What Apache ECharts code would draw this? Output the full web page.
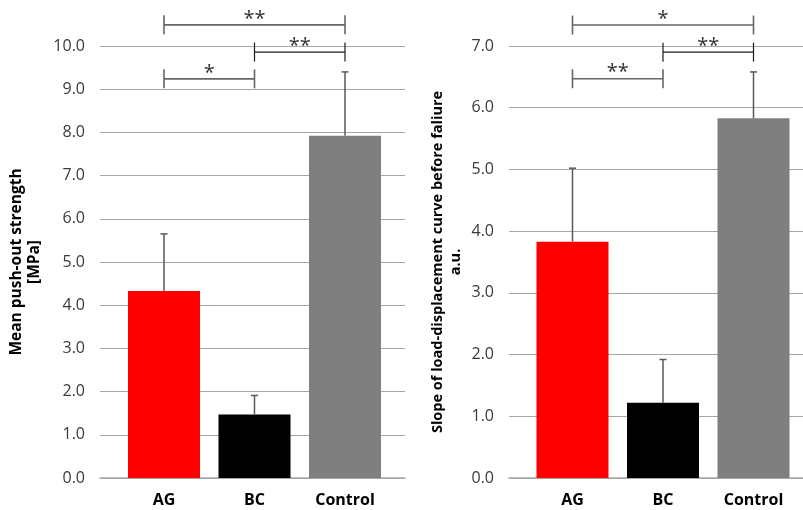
<!DOCTYPE html>
<html><head><meta charset="utf-8">
<script src="https://cdn.jsdelivr.net/npm/echarts@6/dist/echarts.min.js"></script>
<style>html,body{margin:0;padding:0;background:#fff}#c{width:803px;height:510px}</style>
</head><body><div id="c"></div>
<script>
// ---- data ----
const categories = ['AG', 'BC', 'Control'];
const barColors = ['#FF0000', '#000000', '#7F7F7F'];

const pushOutMean = [4.33, 1.47, 7.92];
const pushOutErr  = [1.32, 0.44, 1.48];
const pushOutTicks = [0, 1, 2, 3, 4, 5, 6, 7, 8, 9, 10];

const slopeMean = [3.83, 1.22, 5.83];
const slopeErr  = [1.19, 0.70, 0.75];
const slopeTicks = [0, 1, 2, 3, 4, 5, 6, 7];

// significance brackets: [from category index, to category index]
const bracketPairs = [[0, 2], [1, 2], [0, 1]];
const pushOutSigLabels = ['**', '**', '*'];
const pushOutSigLevels = [10.49, 9.86, 9.24];
const slopeSigLabels = ['*', '**', '**'];
const slopeSigLevels = [7.34, 6.90, 6.47];

const leftTitle = 'Mean push-out strength\n[MPa]';
const rightTitle = 'Slope of load-displacement curve before faliure\na.u.';

// ---- helpers ----
const FONT = 'Open Sans';
function barData(means) {
  return means.map((m, i) => ({ value: [i + 1, m], itemStyle: { color: barColors[i] } }));
}
function errData(means, errs) {
  return means.map((m, i) => [i + 1, m, m + errs[i]]);
}
function bracketData(levels) {
  return bracketPairs.map((p, i) => [p[0] + 1, p[1] + 1, levels[i]]);
}
function errRender(params, api) {
  const b = api.coord([api.value(0), api.value(1)]);
  const t = api.coord([api.value(0), api.value(2)]);
  const st = { stroke: '#595959', lineWidth: 1.5 };
  return { type: 'group', children: [
    { type: 'line', shape: { x1: b[0], y1: b[1], x2: t[0], y2: t[1] }, style: st },
    { type: 'line', shape: { x1: t[0] - 3.5, y1: t[1], x2: t[0] + 3.5, y2: t[1] }, style: st }
  ]};
}
function makeBracketRender(labels) {
  return function (params, api) {
    const a = api.coord([api.value(0), api.value(2)]);
    const b = api.coord([api.value(1), api.value(2)]);
    const dark = params.dataIndex === 1;
    const st = { stroke: dark ? '#1a1a1a' : '#666666', lineWidth: dark ? 1.2 : 1.6 };
    const h = 9.5;
    return { type: 'group', children: [
      { type: 'line', shape: { x1: a[0], y1: a[1], x2: b[0], y2: b[1] }, style: st },
      { type: 'line', shape: { x1: a[0], y1: a[1] - h, x2: a[0], y2: a[1] + h }, style: st },
      { type: 'line', shape: { x1: b[0], y1: b[1] - h, x2: b[0], y2: b[1] + h }, style: st },
      { type: 'text', x: (a[0] + b[0]) / 2, y: a[1] - 6,
        style: { text: labels[params.dataIndex], fontSize: 20, fontFamily: FONT,
                 fill: '#333333', align: 'center', verticalAlign: 'middle' } }
    ]};
  };
}
function xAxisCfg(idx, min, max) {
  return {
    type: 'value', gridIndex: idx, min: min, max: max,
    axisLine: { show: true, lineStyle: { color: '#A6A6A6', width: 1.5 } },
    axisTick: { show: false },
    splitLine: { show: false },
    axisLabel: {
      customValues: [1, 2, 3],
      formatter: v => categories[Math.round(v) - 1] || '',
      fontFamily: FONT, fontWeight: 'bold', fontSize: 16, color: '#000', margin: 14
    }
  };
}
function yAxisCfg(idx, ticks, name, gap, fs, lh) {
  return {
    type: 'value', gridIndex: idx, min: ticks[0], max: ticks[ticks.length - 1], interval: 1,
    name: name, nameLocation: 'middle', nameGap: gap,
    nameTextStyle: { fontFamily: FONT, fontWeight: 'bold', fontSize: fs, color: '#000', lineHeight: lh, align: 'center' },
    axisLine: { show: false }, axisTick: { show: false },
    splitLine: { show: true, lineStyle: { color: '#A6A6A6', width: 1 } },
    axisLabel: { formatter: v => v.toFixed(1), fontFamily: FONT, fontSize: 16, color: '#3a3a3a', margin: 15 }
  };
}

const chart = echarts.init(document.getElementById('c'), null, { renderer: 'canvas' });
chart.setOption({
  animation: false,
  backgroundColor: '#fff',
  grid: [
    { left: 100, top: 46, width: 305, height: 432 },
    { left: 509, top: 46, width: 294, height: 432 }
  ],
  xAxis: [ xAxisCfg(0, 0.29282, 3.66298), xAxisCfg(1, 0.29834, 3.54696) ],
  yAxis: [ yAxisCfg(0, pushOutTicks, leftTitle, 56, 15.5, 18), yAxisCfg(1, slopeTicks, rightTitle, 44, 14.5, 18) ],
  series: [
    { type: 'bar', xAxisIndex: 0, yAxisIndex: 0, barWidth: 72, data: barData(pushOutMean) },
    { type: 'custom', xAxisIndex: 0, yAxisIndex: 0, z: 5, encode: { x: 0, y: 1 },
      renderItem: errRender, data: errData(pushOutMean, pushOutErr) },
    { type: 'custom', xAxisIndex: 0, yAxisIndex: 0, z: 5, clip: false, encode: { x: [0, 1], y: 2 },
      renderItem: makeBracketRender(pushOutSigLabels), data: bracketData(pushOutSigLevels) },
    { type: 'bar', xAxisIndex: 1, yAxisIndex: 1, barWidth: 72, data: barData(slopeMean) },
    { type: 'custom', xAxisIndex: 1, yAxisIndex: 1, z: 5, encode: { x: 0, y: 1 },
      renderItem: errRender, data: errData(slopeMean, slopeErr) },
    { type: 'custom', xAxisIndex: 1, yAxisIndex: 1, z: 5, clip: false, encode: { x: [0, 1], y: 2 },
      renderItem: makeBracketRender(slopeSigLabels), data: bracketData(slopeSigLevels) }
  ]
});
</script>
</body></html>
